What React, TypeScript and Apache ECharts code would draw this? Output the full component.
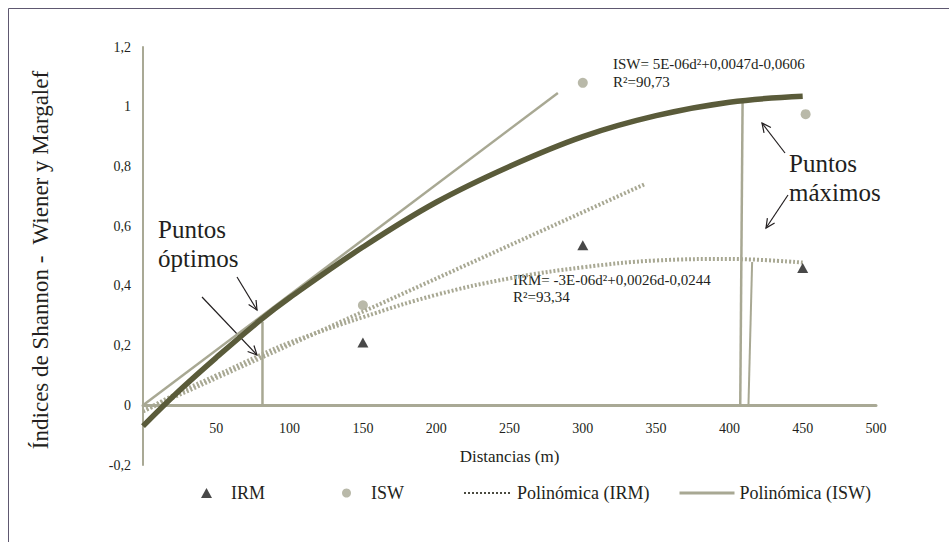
import { useEffect, useRef } from "react";
import * as echarts from "echarts";

// ---- data ----
const irmDistances = [150, 300, 450];
const irmValues = [0.21, 0.536, 0.46];
const iswDistances = [150, 300, 452];
const iswValues = [0.335, 1.08, 0.975];

const curveDistances = [0, 25, 50, 80, 100, 150, 200, 250, 300, 350, 400, 450];
const iswTrend = [-0.07, 0.05, 0.16, 0.285, 0.36, 0.53, 0.68, 0.8, 0.9, 0.97, 1.015, 1.035];
const irmTrend = [-0.02, 0.044, 0.1, 0.168, 0.21, 0.295, 0.37, 0.425, 0.462, 0.485, 0.49, 0.478];

const iswTangent = [[0, 0], [283, 1.046]];
const irmTangent = [[0, -0.02], [342, 0.74]];
const optimumLine = [[81.5, 0], [81.5, 0.28]];
const iswMaxLine = [[407.4, 0], [409, 1.02]];
const irmMaxLine = [[413, 0], [415.5, 0.48]];

const xMin = 0, xMax = 500, xStep = 50;
const yMin = -0.2, yMax = 1.2, yStep = 0.2;

const FONT = "'Liberation Serif', 'DejaVu Serif', serif";
const TEXT = "#231f20";
const AXIS = "#a9a995";
const LIGHT = "#a8a893";
const DARK = "#5a5b3a";

const GRID_TOP = 47;
const GRID_BOTTOM = 77;
const CHART_H = 542;

function arrow(x1: number, y1: number, x2: number, y2: number) {
  const ang = Math.atan2(y2 - y1, x2 - x1);
  const L = 10;
  const a = Math.PI / 7;
  const p1 = [x2 - L * Math.cos(ang - a), y2 - L * Math.sin(ang - a)];
  const p2 = [x2 - L * Math.cos(ang + a), y2 - L * Math.sin(ang + a)];
  return [
    { type: "line", silent: true, shape: { x1, y1, x2, y2 }, style: { stroke: TEXT, lineWidth: 1.2 } },
    { type: "polyline", silent: true, shape: { points: [p1, [x2, y2], p2] }, style: { stroke: TEXT, lineWidth: 1.2, fill: "none" } },
  ];
}

function label(text: string, x: number, y: number, size: number) {
  return {
    type: "text",
    silent: true,
    x,
    y,
    style: { text, fill: TEXT, font: `${size}px ${FONT}`, align: "left", verticalAlign: "middle" },
  };
}

export default function App() {
  const ref = useRef<HTMLDivElement>(null);
  useEffect(() => {
    if (!ref.current) return;
    const chart = echarts.init(ref.current, null, { renderer: "svg" });
    const pairs = (xs: number[], ys: number[]) => xs.map((x, i) => [x, ys[i]]);
    const legendText = { color: TEXT, fontFamily: FONT, fontSize: 18 };
    // move the x axis (line, labels and name) up to y = 0
    const plotH = CHART_H - GRID_TOP - GRID_BOTTOM;
    const zeroOffset = -((0 - yMin) / (yMax - yMin)) * plotH;
    chart.setOption({
      animation: false,
      backgroundColor: "#ffffff",
      textStyle: { fontFamily: FONT },
      grid: { left: 143, right: 73, top: GRID_TOP, bottom: GRID_BOTTOM, containLabel: false, outerBoundsMode: "none" },
      xAxis: {
        type: "value",
        min: xMin,
        max: xMax,
        interval: xStep,
        offset: zeroOffset,
        name: "Distancias (m)",
        nameLocation: "middle",
        nameGap: 43,
        nameTextStyle: { color: TEXT, fontSize: 17, fontFamily: FONT },
        axisLine: { show: true, onZero: false, lineStyle: { color: AXIS, width: 3 } },
        axisTick: { show: false },
        splitLine: { show: false },
        axisLabel: {
          color: TEXT,
          fontSize: 14,
          fontFamily: FONT,
          margin: 16,
          formatter: (v: number) => (v === 0 ? "" : String(v)),
        },
      },
      yAxis: {
        type: "value",
        min: yMin,
        max: yMax,
        interval: yStep,
        name: "Índices de Shannon -  Wiener y Margalef",
        nameLocation: "middle",
        nameGap: 91,
        nameRotate: 90,
        nameTextStyle: { color: TEXT, fontSize: 23, fontFamily: FONT, padding: [0, 8, 0, 0] },
        axisLine: { show: true, onZero: false, lineStyle: { color: AXIS, width: 2 } },
        axisTick: { show: false },
        splitLine: { show: false },
        axisLabel: {
          color: TEXT,
          fontSize: 14,
          fontFamily: FONT,
          margin: 12,
          formatter: (v: number) => String(Math.round(v * 10) / 10).replace(".", ","),
        },
      },
      legend: [
        {
          left: 201, top: 484, padding: 0, itemWidth: 11, itemHeight: 10, selectedMode: false,
          data: [{ name: "IRM", icon: "triangle", itemStyle: { color: "#1a1a1a" } }],
          textStyle: { ...legendText, padding: [0, 0, 0, 14] },
        },
        {
          left: 342, top: 484, padding: 0, itemWidth: 9, itemHeight: 9, selectedMode: false,
          data: [{ name: "ISW", icon: "circle", itemStyle: { color: LIGHT } }],
          textStyle: { ...legendText, padding: [0, 0, 0, 15] },
        },
        {
          left: 463, top: 484, padding: 0, itemWidth: 46, itemHeight: 14, selectedMode: false,
          data: [{
            name: "Polinómica (IRM)",
            itemStyle: { opacity: 0 },
            lineStyle: { color: "#4a4a40", width: 2, type: [2, 2] },
          }],
          textStyle: { ...legendText, padding: [0, 0, 0, 2] },
        },
        {
          left: 678, top: 484, padding: 0, itemWidth: 55, itemHeight: 14, selectedMode: false,
          data: [{
            name: "Polinómica (ISW)",
            itemStyle: { opacity: 0 },
            lineStyle: { color: LIGHT, width: 3, type: "solid" },
          }],
          textStyle: legendText,
        },
      ],
      series: [
        { name: "Tangente (ISW)", type: "line", data: iswTangent, symbol: "none", lineStyle: { color: LIGHT, width: 2.5 }, z: 2 },
        { name: "Óptimo", type: "line", data: optimumLine, symbol: "none", lineStyle: { color: LIGHT, width: 2.5 }, z: 2 },
        { name: "Máximo (ISW)", type: "line", data: iswMaxLine, symbol: "none", lineStyle: { color: LIGHT, width: 2.5 }, z: 2 },
        { name: "Máximo (IRM)", type: "line", data: irmMaxLine, symbol: "none", lineStyle: { color: LIGHT, width: 2 }, z: 2 },
        { name: "Tangente (IRM)", type: "line", data: irmTangent, symbol: "none", lineStyle: { color: LIGHT, width: 4, type: [2, 2] }, z: 3 },
        {
          name: "Polinómica (IRM)", type: "line", data: pairs(curveDistances, irmTrend), smooth: 0.4, symbol: "none",
          lineStyle: { color: LIGHT, width: 4, type: [2, 2] }, itemStyle: { color: LIGHT }, z: 3,
        },
        {
          name: "Polinómica (ISW)", type: "line", data: pairs(curveDistances, iswTrend), smooth: 0.4, symbol: "none",
          lineStyle: { color: DARK, width: 5.5 }, itemStyle: { color: DARK }, z: 4,
        },
        {
          name: "IRM", type: "scatter", data: pairs(irmDistances, irmValues), symbol: "triangle", symbolSize: [11, 10],
          itemStyle: { color: "#1a1a1a" }, z: 5,
        },
        {
          name: "ISW", type: "scatter", data: pairs(iswDistances, iswValues), symbol: "circle", symbolSize: 10,
          itemStyle: { color: LIGHT }, z: 5,
        },
      ],
      graphic: [
        {
          type: "rect", silent: true, z: -1,
          shape: { x: 8.5, y: 8.5, width: 1200, height: 1200 },
          style: { fill: "none", stroke: "#5e5870", lineWidth: 1 },
        },
        label("ISW= 5E-06d²+0,0047d-0,0606", 613, 64, 15),
        label("R²=90,73", 613, 82, 15),
        label("IRM= -3E-06d²+0,0026d-0,0244", 513, 280, 15),
        label("R²=93,34", 513, 297, 15),
        label("Puntos", 158, 229, 25),
        label("óptimos", 158, 258, 25),
        label("Puntos", 789, 163, 25),
        label("máximos", 789, 192, 25),
        ...arrow(237, 277, 257, 310),
        ...arrow(202, 297, 257, 355),
        ...arrow(785, 153, 762, 123),
        ...arrow(788, 195, 766, 228),
      ],
    });
    return () => chart.dispose();
  }, []);
  return <div ref={ref} style={{ position: "absolute", left: 0, top: 0, width: 949, height: 542 }} />;
}
